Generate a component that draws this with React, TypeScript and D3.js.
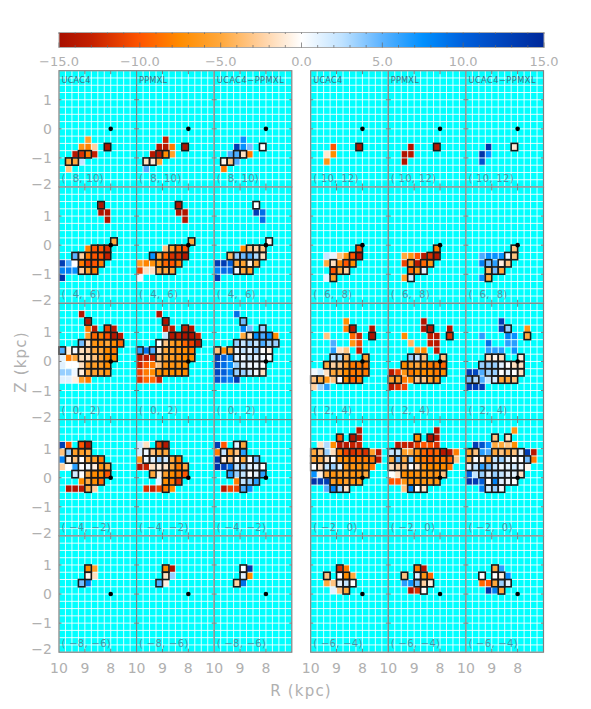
import React from "react";
import * as d3 from "d3";

type Cell = [number, number, number, number?]; // [column, row, km/s, boxed]

const colorStops = [-15, -13, -10, -7.5, -5, -2.5, 0, 2.5, 5, 7.5, 10, 15];
const colorValues = ["#a81000", "#c42000", "#ff5500", "#ff8c00", "#ffa83c", "#ffd0a0", "#ffffff", "#bfe2ff", "#5ab2ff", "#0090ff", "#0060dc", "#00289a"];
const readingIn = [-15, -13, -9, -6, -3, 0, 3, 15];
const readingOut = [-15, -14, -10, -7.5, -5, 0, 3.5, 15];
const barTicks = [-15, -10, -5, 0, 5, 10, 15];
const barLabels = ["−15.0", "−10.0", "−5.0", "0.0", "5.0", "10.0", "15.0"];
const methods = ["UCAC4", "PPMXL", "UCAC4−PPMXL"];
const rangesLeft = ["(  8, 10)", "(  4,  6)", "(  0,  2)", "( −4, −2)", "( −8, −6)"];
const rangesRight = ["( 10, 12)", "(  6,  8)", "(  2,  4)", "( −2,  0)", "( −6, −4)"];

const a810: Cell[] = [[7,10,-14,1],[4,9,-4],[3,10,-5],[4,10,-6.5],[5,10,-1.5],[2,11,-13],[3,11,-11,1],[4,11,-7,1],[5,11,-12],[1,12,-3,1],[2,12,-3,1],[3,12,2],[1,13,-2]];
const b810: Cell[] = [[7,10,-14,1],[4,9,-12],[3,10,-13],[4,10,-13],[5,10,-7],[2,11,-13],[3,11,-13,1],[4,11,-6,1],[5,11,-4],[1,12,-1,1],[2,12,-0.7,1],[3,12,-3.5],[1,13,5]];
const c810: Cell[] = [[7,10,0,1],[4,9,7],[3,10,13],[4,10,7],[5,10,4],[2,11,5],[3,11,5,1],[4,11,-1,1],[5,11,-7],[1,12,-0.3,1],[2,12,-2,1],[3,12,5],[1,13,-7]];

const a1012: Cell[] = [[7,10,-14,1],[3,10,-9],[2,11,-0.8],[3,11,-6],[2,12,-5]];
const b1012: Cell[] = [[7,10,-13,1],[3,10,-14],[2,11,-14],[3,11,-13],[2,12,-14]];
const c1012: Cell[] = [[7,10,-0.7,1],[3,10,14],[2,11,14],[3,11,7],[2,12,11]];

const a46: Cell[] = [[6,2,-14,1],[6,3,-14],[7,3,-14],[7,4,-14],[8,7,-3,1],[4,8,-6.5],[5,8,-9,1],[6,8,-9,1],[7,8,-11,1],[2,9,4.5,1],[3,9,-1.5,1],[4,9,-7,1],[5,9,-9,1],[6,9,-9,1],[7,9,-12,1],[0,10,13],[1,10,5],[2,10,0],[3,10,-7,1],[4,10,-10,1],[5,10,-9,1],[6,10,-7,1],[0,11,8],[1,11,8],[2,11,7],[3,11,-1.5,1],[4,11,-4,1],[5,11,-7,1],[0,12,14]];
const b46: Cell[] = [[6,2,-14,1],[6,3,-14],[7,3,-14],[7,4,-14],[8,7,-3,1],[4,8,-2],[5,8,-4,1],[6,8,-8,1],[7,8,-9,1],[2,9,7,1],[3,9,-3,1],[4,9,-8,1],[5,9,-11,1],[6,9,-11,1],[7,9,-13,1],[0,10,-4.5],[1,10,-6.5],[2,10,-5.5],[3,10,-5,1],[4,10,-8,1],[5,10,-9,1],[6,10,-7,1],[0,11,-10],[1,11,-1],[2,11,-1],[3,11,-3,1],[4,11,-3,1],[5,11,-3.5,1],[0,12,0.5]];
const c46: Cell[] = [[6,2,0,1],[6,3,13],[7,3,9],[7,4,9],[8,7,-0.3,1],[4,8,-6],[5,8,-2,1],[6,8,-1.5,1],[7,8,-2,1],[2,9,-2.5,1],[3,9,3,1],[4,9,4,1],[5,9,5,1],[6,9,2.5,1],[7,9,-1,1],[0,10,13],[1,10,13],[2,10,10],[3,10,-3,1],[4,10,-3.5,1],[5,10,-0.5,1],[6,10,-3,1],[0,11,8],[1,11,9],[2,11,9],[3,11,0.5,1],[4,11,-3,1],[5,11,-4,1],[0,12,13]];

const a68: Cell[] = [[7,8,-9.5,1],[2,9,2],[3,9,0.8],[4,9,-2],[5,9,-5],[6,9,-9,1],[7,9,-13,1],[2,10,-3],[3,10,-1,1],[4,10,-6.5],[5,10,-9,1],[6,10,-6,1],[3,11,-9,1],[4,11,-3,1],[5,11,-1.5,1],[2,12,1],[3,12,-4,1]];
const b68: Cell[] = [[7,8,-7,1],[2,9,-3],[3,9,-5],[4,9,-9],[5,9,-13],[6,9,-11,1],[7,9,-13,1],[2,10,-10],[3,10,-5,1],[4,10,-13],[5,10,-8,1],[6,10,-5,1],[3,11,-8,1],[4,11,-5,1],[5,11,1,1],[2,12,-4],[3,12,1.5,1]];
const c68: Cell[] = [[7,8,-2,1],[2,9,5],[3,9,7],[4,9,7],[5,9,7],[6,9,0.5,1],[7,9,-2,1],[2,10,8],[3,10,4,1],[4,10,6],[5,10,-0.5,1],[6,10,-2,1],[3,11,-2.5,1],[4,11,4,1],[5,11,-3,1],[2,12,7],[3,12,-3,1]];

const a02: Cell[] = [[3,1,-14],[4,2,-14,1],[4,3,-7],[5,3,-13],[7,3,-10,1],[8,3,-13],[4,4,-4],[5,4,-8,1],[6,4,-7,1],[7,4,-9,1],[8,4,-13,1],[9,4,-13],[3,5,4,1],[4,5,-1,1],[5,5,-5,1],[6,5,-5,1],[7,5,-3,1],[8,5,-6,1],[9,5,-8,1],[0,6,5,1],[1,6,-0.5],[2,6,0.5,1],[3,6,-1,1],[4,6,-1.5,1],[5,6,-3,1],[6,6,-3,1],[7,6,-6,1],[8,6,-7,1],[0,7,1],[1,7,-7],[2,7,-3],[3,7,-1,1],[4,7,-1,1],[5,7,-2,1],[6,7,-3,1],[7,7,-6,1],[8,7,-6,1],[0,8,1],[1,8,0],[2,8,0],[3,8,-1],[4,8,-4,1],[5,8,-4,1],[6,8,-4,1],[7,8,-6,1],[0,9,3],[1,9,3],[2,9,0.5],[3,9,-0.5,1],[4,9,-3,1],[5,9,-3.5,1],[6,9,-4,1],[7,9,-5,1],[0,10,1],[1,10,1],[2,10,-0.5],[3,10,-4],[4,10,-7]];
const b02: Cell[] = [[3,1,-14],[4,2,-14,1],[4,3,-12],[5,3,-13],[7,3,-12,1],[8,3,-14],[4,4,2],[5,4,-13,1],[6,4,-12,1],[7,4,-14,1],[8,4,-14,1],[9,4,-12],[3,5,0,1],[4,5,-2,1],[5,5,-4,1],[6,5,-5,1],[7,5,-8,1],[8,5,-10,1],[9,5,-13,1],[0,6,6,1],[1,6,9],[2,6,5,1],[3,6,-1,1],[4,6,-3,1],[5,6,-4,1],[6,6,-5,1],[7,6,-6,1],[8,6,-7,1],[0,7,-13],[1,7,-13],[2,7,-12],[3,7,-2,1],[4,7,-3,1],[5,7,-4,1],[6,7,-5,1],[7,7,-6,1],[8,7,-6,1],[0,8,-12],[1,8,-9],[2,8,-7],[3,8,-2],[4,8,-5,1],[5,8,-5,1],[6,8,-5,1],[7,8,-6,1],[0,9,-10],[1,9,-7],[2,9,-6],[3,9,-6,1],[4,9,-6,1],[5,9,-6,1],[6,9,-6,1],[7,9,-6,1],[0,10,-11],[1,10,-8],[2,10,-8],[3,10,-12]];
const c02: Cell[] = [[3,1,9],[4,2,4,1],[4,3,8],[5,3,4],[7,3,3,1],[4,4,-3],[5,4,-1,1],[6,4,7,1],[7,4,5,1],[8,4,7,1],[9,4,-6],[3,5,3,1],[4,5,2,1],[5,5,3,1],[6,5,2,1],[7,5,5,1],[8,5,3,1],[9,5,3,1],[0,6,-2,1],[1,6,-6],[2,6,-3,1],[3,6,1,1],[4,6,2,1],[5,6,1,1],[6,6,3,1],[7,6,0,1],[8,6,-0.5,1],[0,7,13],[1,7,10],[2,7,8],[3,7,1,1],[4,7,0.5,1],[5,7,2,1],[6,7,1,1],[7,7,0.5,1],[8,7,0,1],[0,8,12],[1,8,9],[2,8,7],[3,8,3],[4,8,1,1],[5,8,0.5,1],[6,8,0.5,1],[7,8,0,1],[0,9,12],[1,9,10],[2,9,8],[3,9,3,1],[4,9,3,1],[5,9,2,1],[6,9,0.5,1],[7,9,-1,1],[0,10,11],[1,10,9],[2,10,8],[3,10,13]];

const a24: Cell[] = [[5,2,-6],[5,3,-7],[6,3,-14,1],[9,3,-14],[2,4,-2],[6,4,-8],[7,4,-12],[9,4,-14,1],[3,5,5],[6,5,-5],[7,5,-10],[3,6,6],[4,6,-1],[5,6,-2],[7,6,-13],[3,7,2,1],[4,7,2.5,1],[5,7,-2.5,1],[8,7,-4,1],[2,8,-3,1],[3,8,-1.5,1],[4,8,-2,1],[5,8,-4,1],[6,8,-7,1],[7,8,-7,1],[8,8,-7,1],[0,9,0.5],[1,9,1.5],[2,9,-1],[3,9,-3,1],[4,9,-3,1],[5,9,-6,1],[6,9,-7,1],[7,9,-7,1],[8,9,-7,1],[0,10,-2,1],[1,10,-3,1],[2,10,-5],[3,10,-2],[4,10,0,1],[5,10,-6,1],[6,10,-8,1],[7,10,-7,1],[0,11,-1.5],[1,11,3],[2,11,6]];
const b24: Cell[] = [[5,2,-14],[5,3,-14],[6,3,-14,1],[9,3,-14],[2,4,-6],[6,4,-12],[7,4,-13],[9,4,-11,1],[3,5,-2.5],[6,5,-12],[7,5,-13],[4,6,-4],[5,6,-6],[7,6,-13],[3,7,3,1],[4,7,2,1],[5,7,-2,1],[8,7,-2,1],[2,8,-6,1],[3,8,-4,1],[4,8,-3,1],[5,8,-5,1],[6,8,-7,1],[7,8,-7,1],[8,8,-8,1],[0,9,-13],[1,9,-10],[2,9,-5],[3,9,-7,1],[4,9,-6,1],[5,9,-6,1],[6,9,-6,1],[7,9,-7,1],[8,9,-6,1],[0,10,-4,1],[1,10,-4,1],[2,10,-7],[3,10,-6],[4,10,-2,1],[5,10,-2,1],[6,10,-4,1],[7,10,-5,1],[0,11,-13],[1,11,-11],[2,11,-10]];
const c24: Cell[] = [[5,2,13],[5,3,13],[6,3,3,1],[9,3,-5],[2,4,6],[6,4,8],[7,4,7],[9,4,-3,1],[3,5,9],[6,5,6],[7,5,6],[3,6,6],[4,6,6],[5,6,6],[7,6,7],[3,7,-1,1],[4,7,-0.3,1],[5,7,-1,1],[8,7,-0.5,1],[2,8,3,1],[3,8,3,1],[4,8,3,1],[5,8,1,1],[6,8,0,1],[7,8,-1,1],[8,8,-1,1],[0,9,13],[1,9,12],[2,9,5],[3,9,3,1],[4,9,3,1],[5,9,0,1],[6,9,1,1],[7,9,0,1],[8,9,-1,1],[0,10,4,1],[1,10,2.5,1],[2,10,5],[3,10,2],[4,10,1.5,1],[5,10,-3,1],[6,10,-3,1],[7,10,-2,1],[0,11,13],[1,11,13],[2,11,13]];

const an42: Cell[] = [[0,3,13],[1,3,-9],[3,3,-9,1],[4,3,-13,1],[0,4,-2],[1,4,3,1],[2,4,-4,1],[3,4,-4,1],[4,4,-3,1],[0,5,8],[1,5,-0.5,1],[2,5,-2,1],[3,5,0,1],[4,5,-3,1],[5,5,-4,1],[6,5,-7,1],[0,6,-1.5],[1,6,0],[2,6,6],[3,6,0,1],[4,6,0.5,1],[5,6,-0.5,1],[6,6,-5,1],[7,6,-3,1],[2,7,1.5,1],[3,7,0],[4,7,-3,1],[5,7,-6,1],[6,7,-6,1],[7,7,-9,1],[3,8,-6],[4,8,-3,1],[5,8,-6,1],[6,8,-8,1],[1,9,-14],[2,9,-14],[3,9,-13],[4,9,-3,1],[5,9,-1.5]];
const bn42: Cell[] = [[0,3,2],[1,3,-1],[3,3,-10,1],[4,3,-13,1],[0,4,1.5],[1,4,0.5,1],[2,4,-2,1],[3,4,-3,1],[4,4,-3,1],[0,5,-5],[1,5,0.5,1],[2,5,1,1],[3,5,3,1],[4,5,1.5,1],[5,5,-3,1],[6,5,-7,1],[0,6,-14],[1,6,-12],[2,6,-1],[3,6,-0.5,1],[4,6,-1,1],[5,6,-3,1],[6,6,-7,1],[7,6,-3,1],[2,7,-3,1],[3,7,-0.5],[4,7,-4,1],[5,7,-6,1],[6,7,-7,1],[7,7,-9,1],[3,8,1],[4,8,-6,1],[5,8,-7,1],[6,8,-11,1],[1,9,-11],[2,9,-12],[3,9,-10],[4,9,-7,1],[5,9,-6]];
const cn42: Cell[] = [[0,3,13],[1,3,-9],[3,3,1,1],[4,3,-3,1],[0,4,-7],[1,4,2,1],[2,4,-4,1],[3,4,-2,1],[4,4,6,1],[0,5,14],[1,5,-0.5,1],[2,5,-2,1],[3,5,-0.3,1],[4,5,-3,1],[5,5,0,1],[6,5,4,1],[0,6,14],[1,6,13],[2,6,9],[3,6,2,1],[4,6,3,1],[5,6,1,1],[6,6,1,1],[7,6,0,1],[2,7,6,1],[3,7,3],[4,7,2,1],[5,7,0,1],[6,7,1,1],[7,7,6,1],[3,8,-7],[4,8,2,1],[5,8,3,1],[6,8,6,1],[1,9,-13],[2,9,-10],[3,9,-10],[4,9,5,1],[5,9,7]];

const an20: Cell[] = [[7,1,-14],[4,2,-9,1],[6,2,-14,1],[7,2,-14],[1,3,-1],[2,3,2.5],[3,3,-6],[4,3,-13],[5,3,-13],[6,3,-12],[7,3,-12],[0,4,-3,1],[1,4,-2,1],[2,4,3],[3,4,-1],[4,4,-7,1],[5,4,-10,1],[6,4,-11,1],[7,4,-10,1],[8,4,-11,1],[9,4,-4],[10,4,-13],[0,5,-3,1],[1,5,-3,1],[2,5,-1,1],[3,5,0,1],[4,5,-5,1],[5,5,-6,1],[6,5,-7,1],[7,5,-7,1],[8,5,-7,1],[9,5,-7,1],[10,5,-13],[0,6,0,1],[1,6,-1,1],[2,6,2,1],[3,6,3,1],[4,6,1,1],[5,6,-4,1],[6,6,-5,1],[7,6,-5,1],[8,6,-5,1],[9,6,-7],[0,7,7],[1,7,-0.5],[2,7,-3,1],[3,7,-5,1],[4,7,-4,1],[5,7,-4,1],[6,7,-5,1],[7,7,-5,1],[8,7,-3,1],[0,8,14],[1,8,13],[2,8,13],[3,8,-4,1],[4,8,-6,1],[5,8,-4,1],[6,8,-5,1],[7,8,-5,1],[2,9,5],[3,9,8,1],[4,9,3,1],[5,9,-1,1]];
const bn20: Cell[] = [[7,1,-14],[4,2,-6,1],[6,2,-14,1],[7,2,-14],[1,3,-13],[2,3,-12],[3,3,-13],[4,3,-10],[5,3,-9],[6,3,-9],[7,3,-11],[0,4,2,1],[1,4,2,1],[2,4,-4],[3,4,-3],[4,4,-5,1],[5,4,-8,1],[6,4,-9,1],[7,4,-8,1],[8,4,-13,1],[9,4,-14],[10,4,-7],[0,5,-3,1],[1,5,4,1],[2,5,-3,1],[3,5,3,1],[4,5,-6,1],[5,5,-7,1],[6,5,-8,1],[7,5,-7,1],[8,5,-7,1],[9,5,-8,1],[10,5,-2],[0,6,-1,1],[1,6,-1.5,1],[2,6,-2,1],[3,6,0,1],[4,6,-1,1],[5,6,-5,1],[6,6,-6,1],[7,6,-6,1],[8,6,-6,1],[9,6,-7],[0,7,0],[1,7,-1],[2,7,-6,1],[3,7,-6,1],[4,7,-5,1],[5,7,-5,1],[6,7,-5,1],[7,7,-5,1],[8,7,-2,1],[0,8,-9],[1,8,-9],[2,8,-5],[3,8,-6,1],[4,8,-5,1],[5,8,-5,1],[6,8,-5,1],[7,8,-5,1],[2,9,-2],[3,9,8,1],[4,9,0,1],[5,9,-1,1]];
const cn20: Cell[] = [[7,1,-5],[4,2,-2,1],[6,2,-1,1],[1,3,13],[2,3,11],[3,3,7],[4,3,-3],[5,3,-3],[6,3,-2],[7,3,-6],[0,4,-4,1],[1,4,-2,1],[2,4,6],[3,4,5],[4,4,-3,1],[5,4,-2,1],[6,4,-3,1],[7,4,-2,1],[8,4,1,1],[9,4,13],[10,4,-13],[0,5,-3,1],[1,5,0,1],[2,5,-0.5,1],[3,5,-3,1],[4,5,2,1],[5,5,3,1],[6,5,1,1],[7,5,0,1],[8,5,0,1],[9,5,4,1],[10,5,-7],[0,6,1,1],[1,6,2,1],[2,6,6,1],[3,6,4,1],[4,6,2,1],[5,6,0.5,1],[6,6,1,1],[7,6,1.5,1],[8,6,0.5,1],[9,6,-0.3],[0,7,10],[1,7,2],[2,7,3,1],[3,7,1,1],[4,7,3,1],[5,7,2,1],[6,7,1,1],[7,7,1,1],[8,7,-1,1],[0,8,14],[1,8,13],[2,8,10],[3,8,0,1],[4,8,8,1],[5,8,1,1],[6,8,0.5,1],[7,8,0,1],[2,9,8],[3,9,1.5,1],[4,9,3,1],[5,9,0.5,1]];

const an86: Cell[] = [[4,4,-6,1],[5,4,-4],[4,5,-0.3,1],[5,5,-1],[3,6,4,1],[4,6,8]];
const bn86: Cell[] = [[4,4,-6,1],[5,4,-14],[4,5,-1,1],[5,5,3],[3,6,5,1],[4,6,-0.5]];
const cn86: Cell[] = [[4,4,0,1],[5,4,14],[4,5,1,1],[5,5,-6],[3,6,-1.5,1],[4,6,9]];

const an64: Cell[] = [[4,4,-11,1],[5,4,-7],[2,5,-2,1],[4,5,0,1],[5,5,-6,1],[6,5,-3],[2,6,-3],[3,6,-2],[4,6,1,1],[5,6,2,1],[6,6,0,1],[3,7,1],[4,7,-2],[5,7,-3,1]];
const bn64: Cell[] = [[4,4,-7,1],[5,4,-14],[2,5,-2,1],[4,5,1,1],[5,5,-5,1],[6,5,-8],[2,6,6],[3,6,7],[4,6,4,1],[5,6,-1.5,1],[6,6,-0.5,1],[3,7,-14],[4,7,-11],[5,7,0,1]];
const cn64: Cell[] = [[4,4,-3,1],[5,4,6],[2,5,0,1],[4,5,0,1],[5,5,-0.5,1],[6,5,7],[2,6,-8],[3,6,-9],[4,6,-3,1],[5,6,3,1],[6,6,1,1],[3,7,14],[4,7,8],[5,7,-3,1]];

const leftPanels: Cell[][][] = [[a810, b810, c810], [a46, b46, c46], [a02, b02, c02], [an42, bn42, cn42], [an86, bn86, cn86]];
const rightPanels: Cell[][][] = [[a1012, b1012, c1012], [a68, b68, c68], [a24, b24, c24], [an20, bn20, cn20], [an64, bn64, cn64]];

const W = 591, H = 709;
const left0 = 59, right0 = 310.7, panelW = 77.6;
const top0 = 70.7, rowH = 116.3;
const labelFont = "'DejaVu Sans', sans-serif";
const grey = "#b0b0b0";

const color = d3.scaleLinear<string>().domain(colorStops).range(colorValues).clamp(true);
const reading = d3.scaleLinear().domain(readingIn).range(readingOut).clamp(true);
const barX = d3.scaleLinear().domain([-15, 15]).range([59, 544]);
const rScale = d3.scaleLinear().domain([10, 7]).range([0, panelW]);
const zScale = d3.scaleLinear().domain([2, -2]).range([0, rowH]);
const gridR = d3.range(0, 13).map((i) => 10 - i * 0.25);
const gridZ = d3.range(0, 17).map((i) => 2 - i * 0.25);

function Panel({ x, y, cells, title, range }: { x: number; y: number; cells: Cell[]; title?: string; range: string }) {
  const cw = rScale(9.75) - rScale(10);
  const ch = zScale(1.75) - zScale(2);
  const cellX = (c: number) => rScale(10 - c * 0.25);
  const cellY = (r: number) => zScale(2 - r * 0.25);
  return (
    <g transform={`translate(${x},${y})`}>
      <rect width={panelW} height={rowH} fill="#00ffff" />
      {cells.map(([c, r, v], i) => (
        <rect key={i} x={cellX(c)} y={cellY(r)} width={cw} height={ch} fill={color(reading(v))} />
      ))}
      {gridR.map((g) => (
        <line key={g} x1={rScale(g)} x2={rScale(g)} y1={0} y2={rowH} stroke="#ffffff" strokeWidth={1} opacity={0.85} />
      ))}
      {gridZ.map((g) => (
        <line key={g} x1={0} x2={panelW} y1={zScale(g)} y2={zScale(g)} stroke="#ffffff" strokeWidth={1} opacity={0.85} />
      ))}
      {cells.filter((d) => d[3]).map(([c, r], i) => (
        <rect key={i} x={cellX(c)} y={cellY(r)} width={cw} height={ch} fill="none" stroke="#1a1a1a" strokeWidth={1.6} />
      ))}
      <circle cx={rScale(8)} cy={zScale(0)} r={2.3} fill="#000" />
      {[9, 8].map((t) => (
        <g key={t} stroke="#777" strokeWidth={1}>
          <line x1={rScale(t)} x2={rScale(t)} y1={0} y2={3.5} />
          <line x1={rScale(t)} x2={rScale(t)} y1={rowH} y2={rowH - 3.5} />
        </g>
      ))}
      {[1, 0, -1].map((t) => (
        <g key={t} stroke="#777" strokeWidth={1}>
          <line x1={0} x2={2.5} y1={zScale(t)} y2={zScale(t)} />
          <line x1={panelW} x2={panelW - 2.5} y1={zScale(t)} y2={zScale(t)} />
        </g>
      ))}
      <rect width={panelW} height={rowH} fill="none" stroke="#808080" strokeWidth={1.2} />
      {title && (
        <text x={2.5} y={12} fontFamily={labelFont} fontSize={8.2} fill="#3f6f80" letterSpacing={title.length > 6 ? 0.5 : 0.2} style={{ whiteSpace: "pre" }}>{title}</text>
      )}
      <text x={2.5} y={111} fontFamily={labelFont} fontSize={10} fill="#4a95a5" letterSpacing={0.3} style={{ whiteSpace: "pre" }}>{range}</text>
    </g>
  );
}

export default function App() {
  return (
    <svg width={W} height={H} style={{ position: "absolute", left: 0, top: 0, background: "#fff" }}>
      <defs>
        <linearGradient id="bar" x1="0" x2="1" y1="0" y2="0">
          {colorStops.map((s, i) => (
            <stop key={s} offset={(s + 15) / 30} stopColor={colorValues[i]} />
          ))}
        </linearGradient>
      </defs>
      <g>
        <rect x={59} y={32.5} width={485} height={15} fill="url(#bar)" stroke="#aaa" strokeWidth={1} />
        {d3.range(-15, 16).map((v) => (
          <g key={v} stroke="#666" strokeWidth={0.7}>
            <line x1={barX(v)} x2={barX(v)} y1={47.5} y2={v % 5 === 0 ? 42.5 : 45} />
            <line x1={barX(v)} x2={barX(v)} y1={32.5} y2={34} />
          </g>
        ))}
        {barTicks.map((t, i) => (
          <text key={t} x={barX(t)} y={66} textAnchor="middle" fontFamily={labelFont} fontSize={13} fill={grey}>{barLabels[i]}</text>
        ))}
      </g>
      {[leftPanels, rightPanels].map((block, bi) =>
        block.map((row, ri) =>
          row.map((cells, pi) => (
            <Panel
              key={`${bi}-${ri}-${pi}`}
              x={(bi === 0 ? left0 : right0) + pi * panelW}
              y={top0 + ri * rowH}
              cells={cells}
              title={ri === 0 ? methods[pi] : undefined}
              range={(bi === 0 ? rangesLeft : rangesRight)[ri]}
            />
          ))
        )
      )}
      {d3.range(0, 5).map((ri) =>
        [1, 0, -1, -2].map((t) => (
          <text key={`${ri}-${t}`} x={52} y={top0 + ri * rowH + zScale(t) + (t === -2 ? 2 : 5)} textAnchor="end" fontFamily={labelFont} fontSize={14} fill={grey}>
            {t < 0 ? `−${-t}` : t}
          </text>
        ))
      )}
      {[left0, right0].map((x0) =>
        d3.range(0, 3).map((pi) =>
          [10, 9, 8].map((t) => (
            <text key={`${x0}-${pi}-${t}`} x={x0 + pi * panelW + rScale(t)} y={673} textAnchor="middle" fontFamily={labelFont} fontSize={14} fill={grey}>{t}</text>
          ))
        )
      )}
      <text x={301} y={696} textAnchor="middle" fontFamily={labelFont} fontSize={15} fill={grey} letterSpacing={1.2}>R (kpc)</text>
      <text transform="translate(26,362) rotate(-90)" textAnchor="middle" fontFamily={labelFont} fontSize={15} fill={grey} letterSpacing={1.2}>Z (kpc)</text>
    </svg>
  );
}
